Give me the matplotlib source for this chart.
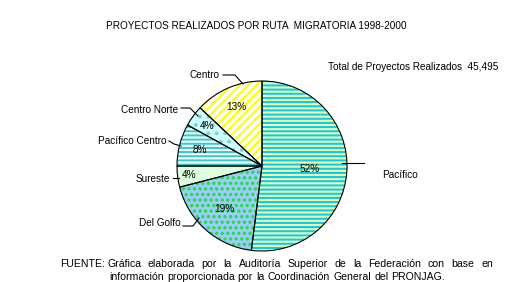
import matplotlib
matplotlib.use("Agg")
import matplotlib.pyplot as plt
import numpy as np

# canvas in pixels (y measured from top in the reference)
W, H = 526, 282

rutas = ["Pacífico", "Del Golfo", "Sureste", "Pacífico Centro", "Centro Norte", "Centro"]
porcentajes = [52, 19, 4, 8, 4, 13]
total_proyectos = "45,495"

titulo = "PROYECTOS REALIZADOS POR RUTA  MIGRATORIA 1998-2000"
fuente_1 = "Gráfica elaborada por la Auditoría Superior de la Federación con base en"
fuente_2 = "información proporcionada por la Coordinación General del PRONJAG."

# fill styles per slice
caras = ["#FFFF99", "#99CCFF", "#DDFFDD", "#FFFFFF", "#CCFFFF", "#FFFFFF"]
tramas = ["----", "...", None, "----", "..", "////"]
color_trama = ["#00CCFF", "#22DD22", "#DDFFDD", "#33CCCC", "#88CCCC", "#FFFF00"]
dist_pct = [0.56, 0.67, 0.87, 0.75, 0.80, 0.76]

CX, CY, R = 262, 166, 85
FONT = "Liberation Sans"
FS = 7.2

plt.rcParams["hatch.linewidth"] = 1.5


def y(py):
    return H - py


fig = plt.figure(figsize=(W / 100, H / 100), dpi=100)
ax = fig.add_axes([0, 0, 1, 1])

wedges, _ = ax.pie(
    porcentajes, startangle=90, counterclock=False,
    center=(CX, y(CY)), radius=R, colors=caras,
    wedgeprops=dict(linewidth=0),
)
for w, tr, hc in zip(wedges, tramas, color_trama):
    w.set_edgecolor(hc)
    w.set_linewidth(0)
    w.set_antialiased(False)
    if tr:
        w.set_hatch(tr)

# black outlines on top
ax.pie(
    porcentajes, startangle=90, counterclock=False,
    center=(CX, y(CY)), radius=R,
    wedgeprops=dict(fill=False, edgecolor="black", linewidth=0.8),
)

for w, d, p in zip(wedges, dist_pct, porcentajes):
    ang = np.deg2rad((w.theta1 + w.theta2) / 2)
    ax.text(CX + d * R * np.cos(ang), y(CY) + d * R * np.sin(ang), f"{p}%",
            ha="center", va="center", fontsize=FS, family=FONT)

# outside labels with leader lines (pixel positions from the reference)
etiquetas = {
    "Pacífico": ((382, 175), "left", [(342, 163), (364, 163)]),
    "Del Golfo": ((181, 223), "right", [(183, 226), (193, 226), (199, 218)]),
    "Sureste": ((170, 179), "right", [(173, 178), (179, 178)]),
    "Pacífico Centro": ((167, 141), "right", [(169, 141), (174, 144), (181, 146)]),
    "Centro Norte": ((178, 110), "right", [(181, 108), (190, 108), (198, 116)]),
    "Centro": ((220, 75), "right", [(223, 75), (235, 75), (243, 84)]),
}
for nombre in rutas:
    (tx, ty), ha, pts = etiquetas[nombre]
    ax.text(tx, y(ty), nombre, ha=ha, va="center", fontsize=FS, family=FONT)
    xs, ys = zip(*pts)
    ax.plot(xs, [y(v) for v in ys], color="black", lw=0.8)

ax.text(256, y(26), titulo, ha="center", va="center", fontsize=FS, family=FONT)
ax.text(328, y(67), f"Total de Proyectos Realizados  {total_proyectos}",
        ha="left", va="center", fontsize=FS, family=FONT)

ax.set_xlim(0, W)
ax.set_ylim(0, H)
ax.set_aspect("auto")
ax.axis("off")

# justified source note
renderer = fig.canvas.get_renderer()


def justificar(texto, x0, x1, py):
    palabras = texto.split()
    objs = [ax.text(0, y(py), p, ha="left", va="center", fontsize=FS + 0.4, family=FONT)
            for p in palabras]
    anchos = [o.get_window_extent(renderer).width for o in objs]
    hueco = (x1 - x0 - sum(anchos)) / max(len(palabras) - 1, 1)
    x = x0
    for o, a in zip(objs, anchos):
        o.set_x(x)
        x += a + hueco


ax.text(60, y(264), "FUENTE:", ha="left", va="center", fontsize=FS + 0.4, family=FONT)
justificar(fuente_1, 107, 493, 264)
justificar(fuente_2, 109, 445, 277)

fig.savefig("out.png", dpi=100)
